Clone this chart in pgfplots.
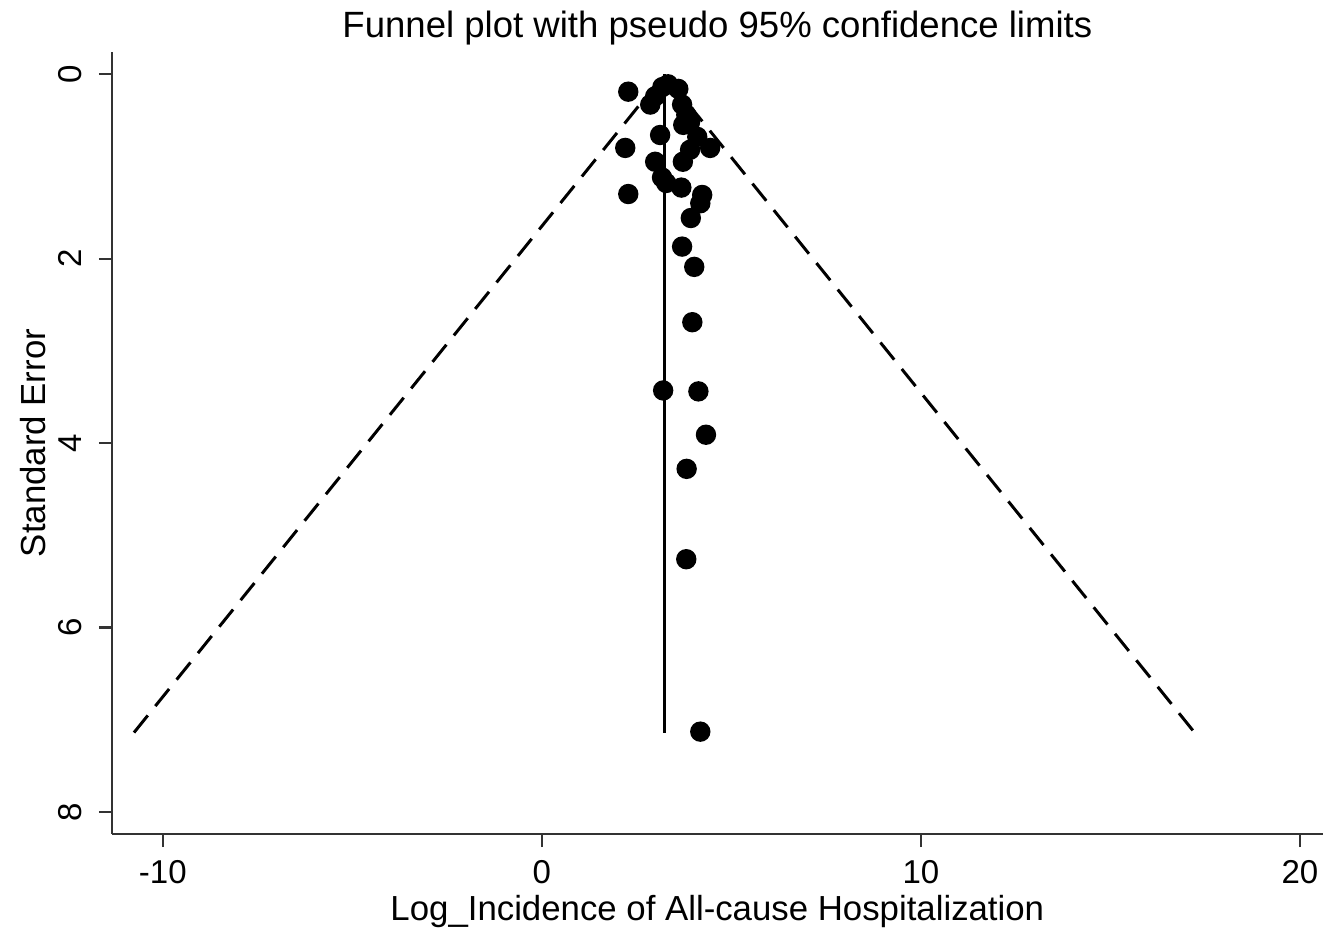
\documentclass[border=0pt]{standalone}
\usepackage{fontspec}
\setmainfont{Liberation Sans}
\usepackage{pgfplots}
\pgfplotsset{compat=1.18}

% Study estimates: log incidence and its standard error
\pgfplotstableread{
x     se
2.28  0.19
2.86  0.33
2.99  0.24
3.18  0.14
3.33  0.11
3.60  0.16
3.70  0.33
3.81  0.44
3.73  0.55
3.91  0.52
3.12  0.66
4.10  0.68
3.91  0.82
4.44  0.80
2.20  0.80
2.99  0.95
3.72  0.95
3.17  1.12
3.28  1.18
3.68  1.23
2.28  1.30
4.23  1.31
4.18  1.40
3.93  1.56
3.70  1.87
4.02  2.09
3.97  2.69
3.20  3.43
4.13  3.44
4.33  3.91
3.82  4.28
3.81  5.26
4.18  7.13
}\studies

\begin{document}
\begin{tikzpicture}
\useasboundingbox (0,0) rectangle (133mm,93.2mm);
\begin{axis}[
  at={(11.2mm,9.8mm)}, anchor=south west,
  scale only axis, width=121.07mm, height=78.2mm,
  xmin=-11.34, xmax=20.60, ymin=-0.24, ymax=8.24,
  y dir=reverse,
  axis x line*=bottom, axis y line*=left,
  axis line style={draw=black!80, line width=0.6pt, -},
  xtick={-10,0,10,20}, ytick={0,2,4,6,8},
  minor tick num=0,
  tick align=outside, major tick length=1.3mm,
  tick style={draw=black!80, line width=0.6pt},
  /pgf/number format/assume math mode=true,
  ticklabel style={font=\fontsize{9.4}{11}\selectfont},
  xticklabel style={anchor=base},
  xticklabel shift=3.6mm,
  yticklabel style={rotate=90, anchor=base},
  yticklabel shift=1.7mm,
  title={Funnel plot with pseudo 95\% confidence limits},
  every axis title shift=0pt,
  title style={at={([yshift=1.5mm]axis description cs:0.5,1)}, anchor=base,
    font=\fontsize{10.4}{12}\selectfont},
  xlabel={Log\_Incidence of All-cause Hospitalization},
  xlabel style={at={([yshift=-8.6mm]axis description cs:0.5,0)}, anchor=base,
    font=\fontsize{9.9}{12}\selectfont},
  ylabel={Standard Error},
  ylabel style={at={([xshift=-6.7mm]axis description cs:0,0.5)}, rotate=0, anchor=base,
    font=\fontsize{9.9}{12}\selectfont},
  clip=false,
]
% pseudo 95% limits around the pooled estimate
\addplot[black, line width=0.85pt, dash pattern=on 2.2mm off 1.2mm]
  coordinates {(-10.76,7.14) (3.23,0) (17.22,7.14)};
% pooled estimate
\addplot[black, line width=0.85pt] coordinates {(3.23,0) (3.23,7.14)};
% individual studies
\addplot[only marks, mark=*, mark size=2.7pt, black] table[x=x, y=se] {\studies};
\end{axis}
\end{tikzpicture}
\end{document}
